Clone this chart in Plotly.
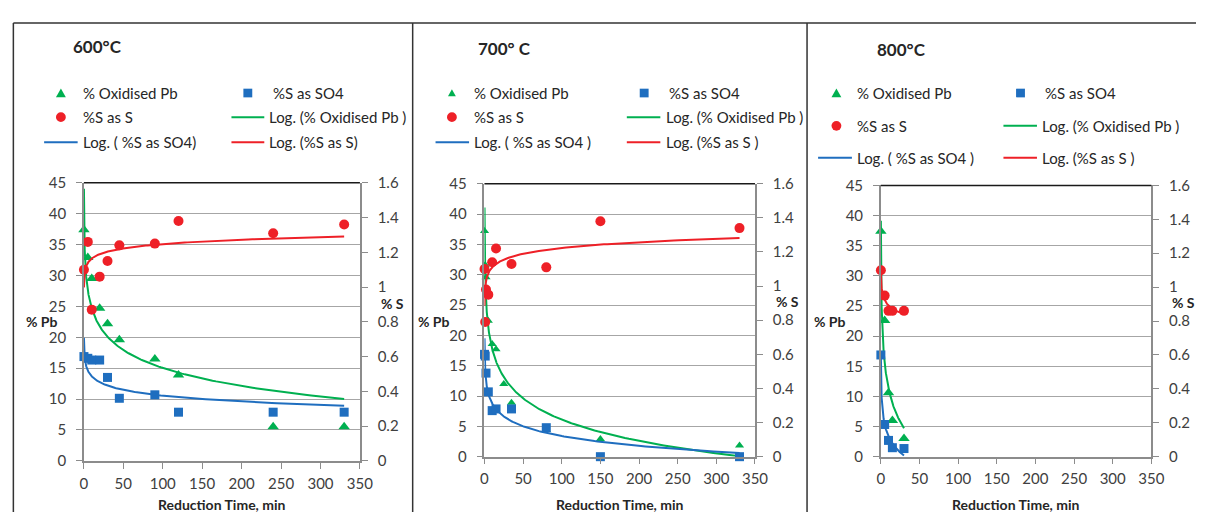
import numpy as np
import plotly.graph_objects as go

W, H = 1209, 520

# ---------------- data ----------------
# 600 °C
t600 = [0.1, 5, 10, 20, 30, 45, 90, 120, 240, 330]
pb600 = [37.4, 32.9, 29.5, 24.7, 22.2, 19.6, 16.5, 13.9, 5.5, 5.5]
s_s600 = [1.10, 1.26, 0.87, 1.06, 1.15, 1.24, 1.25, 1.38, 1.31, 1.36]
s_so4_600 = [0.60, 0.59, 0.58, 0.58, 0.48, 0.36, 0.38, 0.28, 0.28, 0.28]

# 700 °C
t700_pb = [0.1, 1, 2, 5, 10, 15, 25, 35, 80, 150, 330]
pb700 = [37.2, 31.6, 29.6, 22.4, 18.6, 17.7, 12.0, 8.9, 4.4, 2.9, 1.85]
t700_s = [0.1, 1, 2, 5, 10, 15, 35, 80, 150, 330]
s_s700 = [1.10, 0.79, 0.98, 0.95, 1.14, 1.22, 1.13, 1.11, 1.38, 1.34]
s_so4_700 = [0.60, 0.59, 0.49, 0.38, 0.27, 0.28, 0.28, 0.17, 0.0, 0.0]

# 800 °C
t800 = [0.1, 5, 10, 15, 30]
pb800 = [37.4, 22.6, 10.6, 6.0, 3.0]
s_s800 = [1.10, 0.95, 0.86, 0.86, 0.86]
s_so4_800 = [0.60, 0.19, 0.096, 0.053, 0.048]

titles = ["600°C", "700° C", "800°C"]
x_ticks = [0, 50, 100, 150, 200, 250, 300, 350]

GREEN = "#00B050"
RED = "#EE2027"
BLUE = "#1F6EBF"
GRID = "#A6A6A6"
AX = "#8C8C8C"
TXT = "#262626"
FONT = "Lato"


def log_trend(x, y):
    lx = np.log(np.asarray(x, float))
    a, b = np.polyfit(lx, np.asarray(y, float), 1)
    xs = np.geomspace(min(x), max(x), 300)
    return xs, a * np.log(xs) + b


def px(x):
    return x / W


def py(y):
    return 1 - y / H


panels = [
    dict(t_pb=t600, pb=pb600, t_s=t600, ss=s_s600, so4=s_so4_600,
         xd=(81, 361), yd=(179, 467), tri=10, pb_gap=24),
    dict(t_pb=t700_pb, pb=pb700, t_s=t700_s, ss=s_s700, so4=s_so4_700,
         xd=(487.3, 761.7), yd=(180, 462.7), tri=8, pb_gap=33),
    dict(t_pb=t800, pb=pb800, t_s=t800, ss=s_s800, so4=s_so4_800,
         xd=(889.3, 1163.7), yd=(181.7, 462.7), tri=10, pb_gap=33),
]

fig = go.Figure()
layout = dict(width=W, height=H, margin=dict(l=0, r=0, t=0, b=0),
              paper_bgcolor="white", plot_bgcolor="white", showlegend=False,
              font=dict(family=FONT, size=15, color="#404040"))
shapes = []
annotations = []

for i, p in enumerate(panels):
    n = i + 1
    xa = "x" if n == 1 else f"x{n}"
    yl = 2 * n - 1
    yr = 2 * n
    ya_l = "y" if yl == 1 else f"y{yl}"
    ya_r = f"y{yr}"

    fig.add_trace(go.Scatter(x=p["t_pb"], y=p["pb"], mode="markers", xaxis=xa, yaxis=ya_l,
                             marker=dict(symbol="triangle-up", size=p["tri"], color=GREEN),
                             cliponaxis=False, name="% Oxidised Pb"))
    fig.add_trace(go.Scatter(x=p["t_s"], y=p["so4"], mode="markers", xaxis=xa, yaxis=ya_r,
                             marker=dict(symbol="square", size=9, color=BLUE),
                             cliponaxis=False, name="%S as SO4"))
    fig.add_trace(go.Scatter(x=p["t_s"], y=p["ss"], mode="markers", xaxis=xa, yaxis=ya_r,
                             marker=dict(symbol="circle", size=10, color=RED),
                             cliponaxis=False, name="%S as S"))
    gx, gy = log_trend(p["t_pb"], p["pb"])
    bx, by = log_trend(p["t_s"], p["so4"])
    rx, ry = log_trend(p["t_s"], p["ss"])
    fig.add_trace(go.Scatter(x=gx, y=gy, mode="lines", xaxis=xa, yaxis=ya_l,
                             line=dict(color=GREEN, width=2), name="Log. (% Oxidised Pb )"))
    fig.add_trace(go.Scatter(x=bx, y=by, mode="lines", xaxis=xa, yaxis=ya_r,
                             line=dict(color=BLUE, width=2), name="Log. ( %S as SO4)"))
    fig.add_trace(go.Scatter(x=rx, y=ry, mode="lines", xaxis=xa, yaxis=ya_r,
                             line=dict(color=RED, width=2), name="Log. (%S as S)"))

    x0, x1 = p["xd"]
    y0, y1 = p["yd"]
    xdom = [px(x0), px(x1)]
    ydom = [py(y1), py(y0)]
    xkey = "xaxis" if n == 1 else f"xaxis{n}"
    ylkey = "yaxis" if yl == 1 else f"yaxis{yl}"
    yrkey = f"yaxis{yr}"
    layout[xkey] = dict(domain=xdom, anchor=ya_l, range=[0, 350], tickvals=x_ticks,
                        showgrid=False, zeroline=False, showline=True, linecolor=AX,
                        linewidth=1.5, ticks="outside", ticklen=6, tickcolor=AX,
                        ticklabelstandoff=2,
                        tickfont=dict(family=FONT, size=15, color="#404040"))
    layout[ylkey] = dict(domain=ydom, anchor=xa, range=[0, 45], dtick=5,
                         showgrid=True, gridcolor=GRID, gridwidth=1.3, zeroline=False,
                         showline=True, linecolor=AX, linewidth=1.5, ticks="outside",
                         ticklen=6, tickcolor=AX, ticklabelstandoff=7,
                         tickfont=dict(family=FONT, size=15, color="#404040"))
    layout[yrkey] = dict(domain=ydom, anchor=xa, overlaying=ya_l, side="right",
                         range=[0, 1.6], dtick=0.2, showgrid=False, zeroline=False,
                         showline=True, linecolor=AX, linewidth=1.5, ticks="outside",
                         ticklen=6, tickcolor=AX, ticklabelstandoff=7,
                         tickfont=dict(family=FONT, size=15, color="#404040"))
    shapes.append(dict(type="line", xref=f"{xa} domain", yref=f"{ya_l} domain",
                       x0=0, x1=1, y0=1, y1=1, line=dict(color="#1a1a1a", width=1.5)))

    # y position of the 0.8 tick on the right axis, keep "% S" just above it
    y08 = y0 - (y0 - y1) * 0.8 / 1.6
    annotations.append(dict(text="<b>% Pb</b>", xref="paper", yref="paper",
                            x=px(x0 - p["pb_gap"]), y=py(323), xanchor="right", yanchor="middle",
                            showarrow=False, font=dict(family=FONT, size=14, color=TXT)))
    annotations.append(dict(text="<b>% S</b>", xref="paper", yref="paper",
                            x=px(x1 + 19), y=py(min(306, y08 - 19)), xanchor="left",
                            yanchor="middle", showarrow=False,
                            font=dict(family=FONT, size=14, color=TXT)))
    annotations.append(dict(text="<b>Reduction Time, min</b>", xref="paper", yref="paper",
                            x=px((x0 + x1) / 2), y=py(512), xanchor="center", yanchor="middle",
                            showarrow=False, font=dict(family=FONT, size=14, color=TXT)))

# ---------------- panel titles and hand-drawn legends ----------------
title_pos = [(67.7, 37.5), (479, 40), (883.3, 41)]
leg = [
    dict(m1=57.7, sq=247.3, t1=77.7, t2sq=271, t2=266.7, rows=(86, 111, 137),
         bl=(40.7, 74.7), gl=(230.7, 264), lab_so4="Log. ( %S as SO4)", lab_s="Log. (%S as S)"),
    dict(m1=454.3, sq=649.3, t1=474.3, t2sq=672.7, t2=669, rows=(86, 111, 137),
         bl=(437.7, 471.7), gl=(631.7, 665.7), lab_so4="Log. ( %S as SO4 )", lab_s="Log. (%S as S )"),
    dict(m1=844.3, sq=1031, t1=862.7, t2sq=1054.3, t2=1051, rows=(86, 120, 153),
         bl=(825.7, 860), gl=(1013.7, 1047.7), lab_so4="Log. ( %S as SO4 )", lab_s="Log. (%S as S )"),
]

for i in range(3):
    tx, ty = title_pos[i]
    annotations.append(dict(text=f"<b>{titles[i]}</b>", xref="paper", yref="paper",
                            x=px(tx), y=py(ty), xanchor="left", yanchor="middle",
                            showarrow=False, font=dict(family=FONT, size=17, color=TXT)))
    L = leg[i]
    r1, r2, r3 = L["rows"]
    ts = 5 if i != 1 else 4
    cx, cy = L["m1"], r1
    shapes.append(dict(type="path", xref="paper", yref="paper",
                       path=f"M {px(cx - ts)} {py(cy + ts * 0.85)} L {px(cx + ts)} {py(cy + ts * 0.85)} "
                            f"L {px(cx)} {py(cy - ts * 0.95)} Z",
                       fillcolor=GREEN, line=dict(width=0)))
    shapes.append(dict(type="rect", xref="paper", yref="paper",
                       x0=px(L["sq"] - 4.5), x1=px(L["sq"] + 4.5), y0=py(r1 + 4.5), y1=py(r1 - 4.5),
                       fillcolor=BLUE, line=dict(width=0)))
    shapes.append(dict(type="circle", xref="paper", yref="paper",
                       x0=px(L["m1"] - 5), x1=px(L["m1"] + 5), y0=py(r2 + 5), y1=py(r2 - 5),
                       fillcolor=RED, line=dict(width=0)))
    shapes.append(dict(type="line", xref="paper", yref="paper",
                       x0=px(L["gl"][0]), x1=px(L["gl"][1]), y0=py(r2), y1=py(r2),
                       line=dict(color=GREEN, width=2)))
    shapes.append(dict(type="line", xref="paper", yref="paper",
                       x0=px(L["bl"][0]), x1=px(L["bl"][1]), y0=py(r3), y1=py(r3),
                       line=dict(color=BLUE, width=2)))
    shapes.append(dict(type="line", xref="paper", yref="paper",
                       x0=px(L["gl"][0]), x1=px(L["gl"][1]), y0=py(r3), y1=py(r3),
                       line=dict(color=RED, width=2)))
    texts = [("% Oxidised Pb", L["t1"], r1), ("%S as SO4", L["t2sq"], r1),
             ("%S as S", L["t1"], r2), ("Log. (% Oxidised Pb )", L["t2"], r2),
             (L["lab_so4"], L["t1"], r3), (L["lab_s"], L["t2"], r3)]
    for t, x, y in texts:
        annotations.append(dict(text=t, xref="paper", yref="paper", x=px(x), y=py(y),
                                xanchor="left", yanchor="middle", showarrow=False,
                                font=dict(family=FONT, size=15, color=TXT)))

# panel frames
FR = dict(color="#333333", width=1.5)
shapes.append(dict(type="line", xref="paper", yref="paper", x0=px(9.5), x1=1,
                   y0=py(13.5), y1=py(13.5), line=FR))
for xv in (9.5, 414.5, 814.5):
    shapes.append(dict(type="line", xref="paper", yref="paper", x0=px(xv), x1=px(xv),
                       y0=py(13.5), y1=0, line=FR))

layout["shapes"] = shapes
layout["annotations"] = annotations
fig.update_layout(**layout)
fig.write_html("out.html")
